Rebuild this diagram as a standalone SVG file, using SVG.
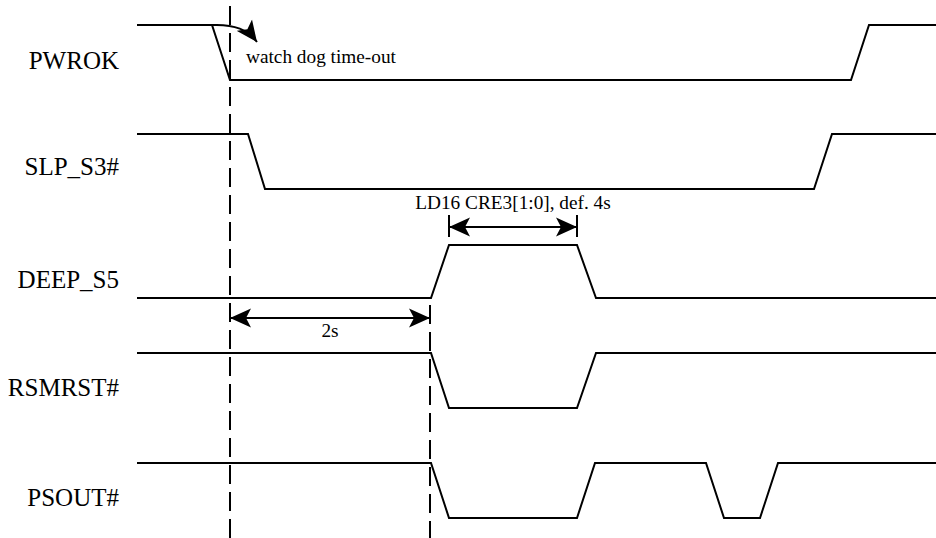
<svg xmlns="http://www.w3.org/2000/svg" width="936" height="538" viewBox="0 0 936 538">
<defs>
<style>
.sig{fill:none;stroke:#000;stroke-width:2;stroke-linejoin:miter}
.lbl{font-family:"Liberation Serif","Times New Roman",serif;font-size:25px;fill:#000;text-anchor:end}
.ann{font-family:"Liberation Serif","Times New Roman",serif;font-size:19.3px;fill:#000}
.dash{fill:none;stroke:#000;stroke-width:2;stroke-dasharray:19 8}
.dim{fill:none;stroke:#000;stroke-width:2}
</style>
<marker id="ah" viewBox="-21 -10 21 20" refX="0" refY="0" markerWidth="21" markerHeight="20" markerUnits="userSpaceOnUse" orient="auto-start-reverse">
<path d="M0,0 L-21,-9.5 L-16,0 L-21,9.5 Z" fill="#000"/>
</marker>
</defs>
<rect width="936" height="538" fill="#fff"/>
<g id="PWROK">
<text class="lbl" x="119" y="69">PWROK</text>
<polyline class="sig" points="137,25 212,25 230,80 851,80 869,25 936,25"/>
</g>
<g id="SLP_S3">
<text class="lbl" x="119" y="175">SLP_S3#</text>
<polyline class="sig" points="137,134 248,134 265,189 814,189 832,134 936,134"/>
</g>
<g id="DEEP_S5">
<text class="lbl" x="119" y="288">DEEP_S5</text>
<polyline class="sig" points="137,298 431,298 449,245 577,245 596,298 936,298"/>
</g>
<g id="RSMRST">
<text class="lbl" x="119" y="396">RSMRST#</text>
<polyline class="sig" points="137,353 431,353 449,408 577,408 596,353 936,353"/>
</g>
<g id="PSOUT">
<text class="lbl" x="119" y="506">PSOUT#</text>
<polyline class="sig" points="137,463 431,463 449,518 577,518 595,463 706,463 724,518 760,518 778,463 936,463"/>
</g>
<g id="connectors">
<line class="dash" x1="230" y1="6" x2="230" y2="538"/>
<line class="dash" x1="430" y1="305" x2="430" y2="538"/>
<path class="dim" d="M212,25 C235,24 248,30 257,42" marker-end="url(#ah)"/>
<line class="dim" x1="449" y1="215" x2="449" y2="237"/>
<line class="dim" x1="577" y1="215" x2="577" y2="237"/>
<line class="dim" x1="449" y1="227" x2="577" y2="227" marker-start="url(#ah)" marker-end="url(#ah)"/>
<line class="dim" x1="230" y1="318" x2="430" y2="318" marker-start="url(#ah)" marker-end="url(#ah)"/>
</g>
<g id="annotations">
<text class="ann" x="246" y="63">watch dog time-out</text>
<text class="ann" x="513" y="209" text-anchor="middle">LD16 CRE3[1:0], def. 4s</text>
<text class="ann" x="330" y="337" text-anchor="middle">2s</text>
</g>
</svg>
